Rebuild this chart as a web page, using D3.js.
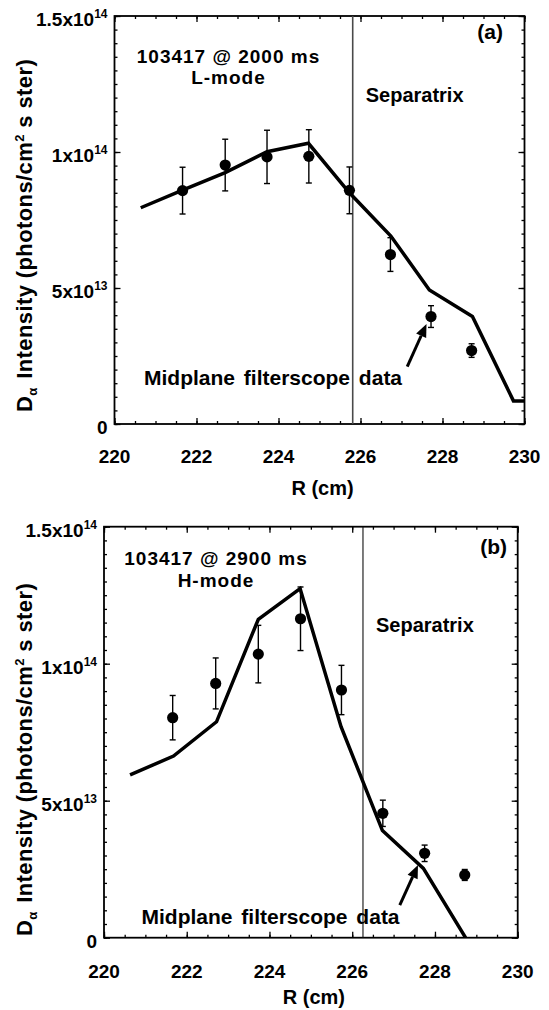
<!DOCTYPE html>
<html>
<head>
<meta charset="utf-8">
<script src="https://cdn.jsdelivr.net/npm/d3@7/dist/d3.min.js"></script>
<style>
  html, body { margin: 0; padding: 0; background: #fff; }
  svg { display: block; font-family: "Liberation Sans", Arial, Helvetica, sans-serif; font-weight: bold; }
</style>
</head>
<body>
<svg id="chart" width="549" height="1010"></svg>
<script>
// ---- Data (intensity in units of 1e14 photons/cm^2 s ster, R in cm) ----
// Panel (a): L-mode, 103417 @ 2000 ms
const dataR_a   = [221.66, 222.70, 223.72, 224.74, 225.73, 226.73, 227.72, 228.71];
const dataI_a   = [0.858, 0.952, 0.982, 0.984, 0.859, 0.623, 0.395, 0.270];
const dataErr_a = [0.086, 0.095, 0.098, 0.098, 0.086, 0.062, 0.040, 0.025];
const modelR_a  = [220.64, 221.66, 222.70, 223.72, 224.73, 225.73, 226.74, 227.68, 228.73, 229.73, 230.00];
const modelI_a  = [0.795, 0.860, 0.924, 1.001, 1.032, 0.850, 0.691, 0.493, 0.395, 0.085, 0.085];
const separatrix_a = 225.81;
const arrow_a = [227.14, 0.211, 227.61, 0.368];   // tail R, tail I, tip R, tip I

// Panel (b): H-mode, 103417 @ 2900 ms
const dataR_b   = [221.66, 222.70, 223.73, 224.75, 225.74, 226.74, 227.75, 228.72];
const dataI_b   = [0.803, 0.928, 1.035, 1.164, 0.904, 0.454, 0.308, 0.229];
const dataErr_b = [0.081, 0.093, 0.105, 0.116, 0.090, 0.048, 0.030, 0.020];
const modelR_b  = [220.63, 221.68, 222.72, 223.73, 224.74, 225.73, 226.73, 227.72, 228.74];
const modelI_b  = [0.594, 0.663, 0.788, 1.162, 1.274, 0.770, 0.391, 0.253, 0.000];
const separatrix_b = 226.26;
const arrow_b = [227.15, 0.119, 227.59, 0.265];

// Axis ticks
const xMajor = [220, 222, 224, 226, 228, 230];
const xMinor = d3.range(220, 230.01, 0.5);
const yMajor = [0, 0.5, 1.0, 1.5];
const yMinor = d3.range(0, 1.501, 0.05);
const yTickLabels = [["0", ""], ["5x10", "13"], ["1x10", "14"], ["1.5x10", "14"]];

const titles_a = ["103417 @ 2000 ms", "L-mode", "(a)"];
const titles_b = ["103417 @ 2900 ms", "H-mode", "(b)"];
const noteText = "Midplane filterscope data";
const sepText = "Separatrix";
const xTitle = "R (cm)";

const svg = d3.select("#chart");

function drawPanel(cfg) {
  const { left, right, top, bottom } = cfg.box;
  const x = d3.scaleLinear().domain([220, 230]).range([left, right]);
  const y = d3.scaleLinear().domain([0, 1.5]).range([bottom, top]);
  const g = svg.append("g");

  const clipId = "clip-" + cfg.id;
  svg.append("clipPath").attr("id", clipId)
    .append("rect").attr("x", left).attr("y", top)
    .attr("width", right - left).attr("height", bottom - top);

  // Minor and major ticks on all four sides, pointing inward
  const styleAxis = sel => {
    sel.select(".domain").remove();
    sel.selectAll(".tick line").attr("stroke", "#000").attr("stroke-width", 1.3);
    sel.selectAll(".tick text").remove();
  };
  g.append("g").attr("transform", `translate(0,${bottom})`)
    .call(d3.axisBottom(x).tickValues(xMinor).tickSize(-3)).call(styleAxis);
  g.append("g").attr("transform", `translate(0,${bottom})`)
    .call(d3.axisBottom(x).tickValues(xMajor).tickSize(-6)).call(styleAxis);
  g.append("g").attr("transform", `translate(0,${top})`)
    .call(d3.axisTop(x).tickValues(xMinor).tickSize(-3)).call(styleAxis);
  g.append("g").attr("transform", `translate(0,${top})`)
    .call(d3.axisTop(x).tickValues(xMajor).tickSize(-6)).call(styleAxis);
  g.append("g").attr("transform", `translate(${left},0)`)
    .call(d3.axisLeft(y).tickValues(yMinor).tickSize(-3)).call(styleAxis);
  g.append("g").attr("transform", `translate(${left},0)`)
    .call(d3.axisLeft(y).tickValues(yMajor).tickSize(-6)).call(styleAxis);
  g.append("g").attr("transform", `translate(${right},0)`)
    .call(d3.axisRight(y).tickValues(yMinor).tickSize(-3)).call(styleAxis);
  g.append("g").attr("transform", `translate(${right},0)`)
    .call(d3.axisRight(y).tickValues(yMajor).tickSize(-6)).call(styleAxis);

  // Frame
  g.append("rect").attr("x", left).attr("y", top)
    .attr("width", right - left).attr("height", bottom - top)
    .attr("fill", "none").attr("stroke", "#000").attr("stroke-width", 1.8);

  // X tick labels
  g.selectAll(".xlab").data(xMajor).join("text")
    .attr("x", d => x(d)).attr("y", bottom + cfg.xLabelOffset)
    .attr("text-anchor", "middle").attr("font-size", 19)
    .text(d => d);

  // Y tick labels with superscript exponent
  const yl = g.selectAll(".ylab").data(yMajor).join("text")
    .attr("x", left - 7).attr("y", d => y(d) + 10)
    .attr("text-anchor", "end").attr("font-size", 19);
  yl.each(function(d, i) {
    const t = d3.select(this);
    t.append("tspan").text(yTickLabels[i][0]);
    if (yTickLabels[i][1]) {
      t.append("tspan").attr("dy", -8).attr("font-size", 12).text(yTickLabels[i][1]);
    }
  });

  // X axis title
  g.append("text").attr("x", (left + right) / 2 + 3).attr("y", bottom + cfg.xTitleOffset)
    .attr("text-anchor", "middle").attr("font-size", 20).text(xTitle);

  // Y axis title (rotated)
  const yt = g.append("text")
    .attr("transform", `translate(32,${cfg.yTitleStart}) rotate(-90)`)
    .attr("text-anchor", "start").attr("font-size", 22)
    .attr("letter-spacing", 0.4);
  yt.append("tspan").text("D");
  yt.append("tspan").attr("dy", 5).attr("font-size", 13).text("α");
  yt.append("tspan").attr("dy", -5).attr("dx", 2).text(" Intensity (photons/cm");
  yt.append("tspan").attr("dy", -8).attr("font-size", 13).text("2");
  yt.append("tspan").attr("dy", 8).text(" s ster)");

  // Separatrix line
  g.append("line")
    .attr("x1", x(cfg.sep)).attr("x2", x(cfg.sep))
    .attr("y1", top).attr("y2", bottom)
    .attr("stroke", cfg.sepColor).attr("stroke-width", cfg.sepWidth);

  // Model curve
  const line = d3.line().x(d => x(d[0])).y(d => y(d[1]));
  g.append("path")
    .datum(d3.zip(cfg.modelR, cfg.modelI))
    .attr("clip-path", `url(#${clipId})`)
    .attr("d", line)
    .attr("fill", "none").attr("stroke", "#000")
    .attr("stroke-width", 3.5).attr("stroke-linejoin", "miter");

  // Measured points with error bars
  const pts = d3.range(cfg.dataR.length).map(i => ({
    r: cfg.dataR[i], v: cfg.dataI[i], e: cfg.dataErr[i]
  }));
  const eb = g.append("g").attr("stroke", "#000").attr("stroke-width", 1.4);
  eb.selectAll(".bar").data(pts).join("line")
    .attr("x1", d => x(d.r)).attr("x2", d => x(d.r))
    .attr("y1", d => y(d.v + d.e)).attr("y2", d => y(d.v - d.e));
  eb.selectAll(".capT").data(pts).join("line")
    .attr("x1", d => x(d.r) - 3).attr("x2", d => x(d.r) + 3)
    .attr("y1", d => y(d.v + d.e)).attr("y2", d => y(d.v + d.e));
  eb.selectAll(".capB").data(pts).join("line")
    .attr("x1", d => x(d.r) - 3).attr("x2", d => x(d.r) + 3)
    .attr("y1", d => y(d.v - d.e)).attr("y2", d => y(d.v - d.e));
  g.selectAll(".pt").data(pts).join("circle")
    .attr("cx", d => x(d.r)).attr("cy", d => y(d.v)).attr("r", 5.6)
    .attr("fill", "#000");

  // Arrow pointing at the filterscope data
  const [r0, v0, r1, v1] = cfg.arrow;
  const x0 = x(r0), y0 = y(v0), x1 = x(r1), y1 = y(v1);
  const ang = Math.atan2(y1 - y0, x1 - x0);
  const headLen = 13, headHalf = 5.5;
  const bx = x1 - headLen * Math.cos(ang), by = y1 - headLen * Math.sin(ang);
  g.append("line").attr("x1", x0).attr("y1", y0).attr("x2", bx).attr("y2", by)
    .attr("stroke", "#000").attr("stroke-width", 3);
  g.append("path")
    .attr("d", `M${x1},${y1} L${bx + headHalf * Math.sin(ang)},${by - headHalf * Math.cos(ang)} L${bx - headHalf * Math.sin(ang)},${by + headHalf * Math.cos(ang)} Z`)
    .attr("fill", "#000");

  // Annotations: shot/time line and mode line
  g.append("text").attr("x", cfg.titleX).attr("y", cfg.titleY)
    .attr("text-anchor", "middle").attr("font-size", 19)
    .attr("letter-spacing", 1).text(cfg.titles[0]);
  g.append("text").attr("x", cfg.titleX).attr("y", cfg.titleY + 21.5)
    .attr("text-anchor", "middle").attr("font-size", 19)
    .attr("letter-spacing", 1).text(cfg.titles[1]);
  g.append("text").attr("x", cfg.tagX).attr("y", cfg.tagY)
    .attr("text-anchor", "end").attr("font-size", 21).text(cfg.titles[2]);
  g.append("text").attr("x", x(cfg.sep) + 13).attr("y", cfg.sepTextY)
    .attr("font-size", 20).text(sepText);
  g.append("text").attr("x", cfg.noteX).attr("y", cfg.noteY)
    .attr("font-size", 21).attr("word-spacing", 3).text(noteText);
}

drawPanel({
  id: "a",
  box: { left: 114.5, right: 524.5, top: 16, bottom: 424 },
  dataR: dataR_a, dataI: dataI_a, dataErr: dataErr_a,
  modelR: modelR_a, modelI: modelI_a,
  sep: separatrix_a, sepColor: "#4a4a4a", sepWidth: 1.6,
  arrow: arrow_a, titles: titles_a,
  titleX: 228.5, titleY: 62.5, tagX: 503, tagY: 38.5,
  sepTextY: 102, noteX: 144, noteY: 385,
  xLabelOffset: 39, xTitleOffset: 71, yTitleStart: 412
});

drawPanel({
  id: "b",
  box: { left: 104, right: 517.7, top: 526.7, bottom: 937.7 },
  dataR: dataR_b, dataI: dataI_b, dataErr: dataErr_b,
  modelR: modelR_b, modelI: modelI_b,
  sep: separatrix_b, sepColor: "#111", sepWidth: 1.1,
  arrow: arrow_b, titles: titles_b,
  titleX: 216, titleY: 565, tagX: 507, tagY: 554,
  sepTextY: 632, noteX: 141.5, noteY: 924,
  xLabelOffset: 40, xTitleOffset: 66, yTitleStart: 936
});
</script>
</body>
</html>
